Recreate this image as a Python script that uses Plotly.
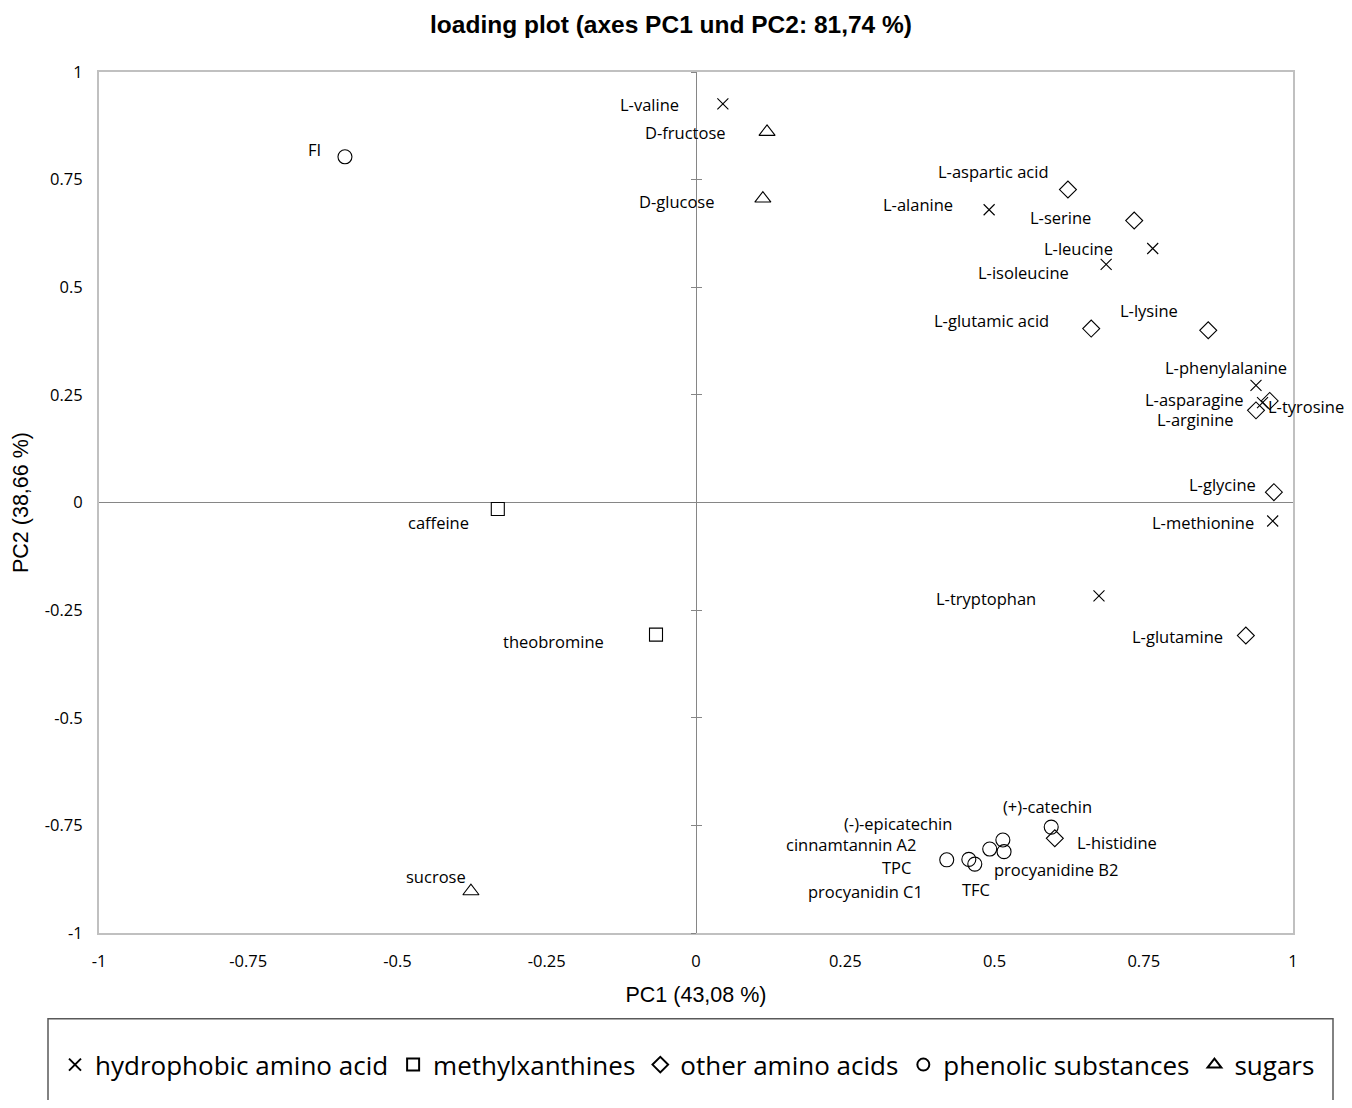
import plotly.graph_objects as go

# ---------------- data ----------------
hydro_names = ["L-valine", "L-alanine", "L-leucine", "L-isoleucine", "L-phenylalanine",
               "L-tyrosine", "L-methionine", "L-tryptophan"]
hydro_x = [0.045, 0.491, 0.765, 0.687, 0.938, 0.949, 0.966, 0.675]
hydro_y = [0.926, 0.680, 0.590, 0.553, 0.272, 0.232, -0.043, -0.217]

methyl_names = ["caffeine", "theobromine"]
methyl_x = [-0.332, -0.067]
methyl_y = [-0.015, -0.307]

other_names = ["L-aspartic acid", "L-serine", "L-glutamic acid", "L-lysine", "L-asparagine",
               "L-arginine", "L-glycine", "L-glutamine", "L-histidine"]
other_x = [0.623, 0.734, 0.662, 0.858, 0.961, 0.938, 0.968, 0.921, 0.601]
other_y = [0.727, 0.655, 0.404, 0.400, 0.236, 0.214, 0.024, -0.309, -0.780]

phen_names = ["FI", "TPC", "procyanidin C1", "TFC", "cinnamtannin A2", "(-)-epicatechin",
              "procyanidine B2", "(+)-catechin"]
phen_x = [-0.588, 0.420, 0.457, 0.467, 0.492, 0.514, 0.516, 0.595]
phen_y = [0.803, -0.830, -0.829, -0.840, -0.805, -0.784, -0.811, -0.754]

sugar_names = ["D-fructose", "D-glucose", "sucrose"]
sugar_x = [0.119, 0.112, -0.377]
sugar_y = [0.861, 0.706, -0.903]

tick_vals = [-1, -0.75, -0.5, -0.25, 0, 0.25, 0.5, 0.75, 1]
tick_text = ["-1", "-0.75", "-0.5", "-0.25", "0", "0.25", "0.5", "0.75", "1"]

title_text = "loading plot (axes PC1 und PC2: 81,74 %)"
x_title = "PC1 (43,08 %)"
y_title = "PC2 (38,66 %)"

# ---------------- label placement (style) ----------------
label_pos = {
    "L-valine": ("right", -42, -1),
    "D-fructose": ("right", -39, -1),
    "FI": ("right", -22, 7),
    "D-glucose": ("right", -47, -3),
    "L-aspartic acid": ("right", -17, 18),
    "L-alanine": ("right", -34, 5),
    "L-serine": ("right", -41, 3),
    "L-leucine": ("right", -38, 0),
    "L-isoleucine": ("right", -35, -8),
    "L-glutamic acid": ("right", -40, 8),
    "L-lysine": ("right", -28, 20),
    "L-phenylalanine": ("right", 33, 18),
    "L-asparagine": ("right", -24, 1),
    "L-tyrosine": ("left", 3, -4),
    "L-arginine": ("right", -20, -9),
    "L-glycine": ("right", -16, 8),
    "L-methionine": ("right", -17, -1),
    "L-tryptophan": ("right", -61, -3),
    "L-glutamine": ("right", -21, -1),
    "caffeine": ("right", -27, -14),
    "theobromine": ("right", -50, -7),
    "sucrose": ("right", -3, 15),
    "(+)-catechin": ("right", 43, 21),
    "L-histidine": ("left", 20, -4),
    "(-)-epicatechin": ("right", -49, 17),
    "cinnamtannin A2": ("right", -72, 5),
    "TPC": ("right", -34, -8),
    "procyanidin C1": ("right", -44, -32),
    "TFC": ("center", 1, -25),
    "procyanidine B2": ("left", -12, -18),
}

LABEL_FONT = dict(family="Open Sans", size=16.5, color="#000000")
MARKER_LINE = dict(color="#000000", width=1.1)

groups = [
    ("hydrophobic amino acid", hydro_names, hydro_x, hydro_y, "x-thin-open", 11),
    ("methylxanthines", methyl_names, methyl_x, methyl_y, "square-open", 13),
    ("other amino acids", other_names, other_x, other_y, "diamond-open", 13),
    ("phenolic substances", phen_names, phen_x, phen_y, "circle-open", 14),
    ("sugars", sugar_names, sugar_x, sugar_y, "triangle-up-open", 14),
]

fig = go.Figure()

# dummy traces to host the overlay axes at x = 0
fig.add_trace(go.Scatter(x=[None], y=[None], xaxis="x", yaxis="y2",
                         showlegend=False, hoverinfo="skip"))
fig.add_trace(go.Scatter(x=[None], y=[None], xaxis="x", yaxis="y3",
                         showlegend=False, hoverinfo="skip"))

annotations = []
for name, names, xs, ys, sym, size in groups:
    fig.add_trace(go.Scatter(
        x=xs, y=ys, mode="markers", name=name, text=names,
        marker=dict(symbol=sym, size=size, color="#000000", line=MARKER_LINE),
        cliponaxis=False,
    ))
    for n, xv, yv in zip(names, xs, ys):
        anchor, dx, dy = label_pos[n]
        annotations.append(dict(
            x=xv, y=yv, xref="x", yref="y", text=n, showarrow=False,
            xanchor=anchor, yanchor="middle", xshift=dx, yshift=dy,
            font=LABEL_FONT,
        ))

FRAME = "#c0c0c0"
ZERO = "#868686"
TICK_FONT = dict(family="Open Sans", size=16.5, color="#000000")
AX_TITLE_FONT = dict(family="Liberation Sans", size=21.5, color="#000000")

# page body has an 8px margin on every side, so figure coordinates = page - 8,
# and the figure is sized so that the page does not overflow the window
W, H = 1352 - 16, 1108 - 16
PL, PR, PT, PB = 99 - 8, 1293 - 8, 72 - 8, 935 - 8
PW, PH = PR - PL, PB - PT

fig.update_layout(
    width=W, height=H,
    margin=dict(l=PL, r=W - PR, t=PT, b=H - PB),
    paper_bgcolor="#ffffff", plot_bgcolor="#ffffff",
    title=dict(text="<b>" + title_text + "</b>", x=(671 - 8) / W, xanchor="center",
               y=1 - (24 - 8) / H, yanchor="middle",
               font=dict(family="Liberation Sans", size=24.5, color="#000000")),
    xaxis=dict(range=[-1, 1], tickvals=tick_vals, ticktext=tick_text,
               showgrid=False, zeroline=False, showline=True, mirror=True,
               linecolor=FRAME, linewidth=2, ticks="outside", ticklen=12,
               tickcolor="rgba(0,0,0,0)", tickfont=TICK_FONT,
               title=dict(text=x_title, standoff=16, font=AX_TITLE_FONT)),
    yaxis=dict(range=[-1, 1], tickvals=tick_vals, ticktext=tick_text,
               showgrid=False, zeroline=True, zerolinecolor=ZERO, zerolinewidth=1,
               showline=True, mirror=True,
               linecolor=FRAME, linewidth=2, ticks="outside", ticklen=11,
               tickcolor="rgba(0,0,0,0)", tickfont=TICK_FONT,
               title=dict(text=y_title, standoff=10, font=AX_TITLE_FONT)),
    yaxis2=dict(range=[-1, 1], overlaying="y", anchor="free", position=0.5,
                tickvals=tick_vals, showticklabels=False, showgrid=False,
                zeroline=False, showline=True, linecolor=ZERO, linewidth=1,
                ticks="outside", ticklen=5, tickcolor=ZERO, tickwidth=1),
    yaxis3=dict(range=[-1, 1], overlaying="y", anchor="free", position=0.5,
                tickvals=tick_vals, showticklabels=False, showgrid=False,
                zeroline=False, showline=False,
                ticks="inside", ticklen=5, tickcolor=ZERO, tickwidth=1),
    showlegend=True,
    legend=dict(orientation="h", x=(55 - 8 - PL) / PW, xanchor="left",
                y=(935 - 1067) / (935 - 72), yanchor="middle",
                font=dict(family="Open Sans", size=26, color="#000000"),
                bgcolor="rgba(0,0,0,0)", borderwidth=0, itemwidth=30,
                itemsizing="constant"),
    annotations=annotations,
    shapes=[dict(type="rect", xref="paper", yref="paper",
                 x0=(48 - 99) / (1293 - 99), x1=(1333 - 99) / (1293 - 99),
                 y0=-0.3, y1=(935 - 1021) / (935 - 72),
                 line=dict(color="#595959", width=1.5), fillcolor="rgba(0,0,0,0)",
                 layer="below")],
)

fig.write_html("out.html")
